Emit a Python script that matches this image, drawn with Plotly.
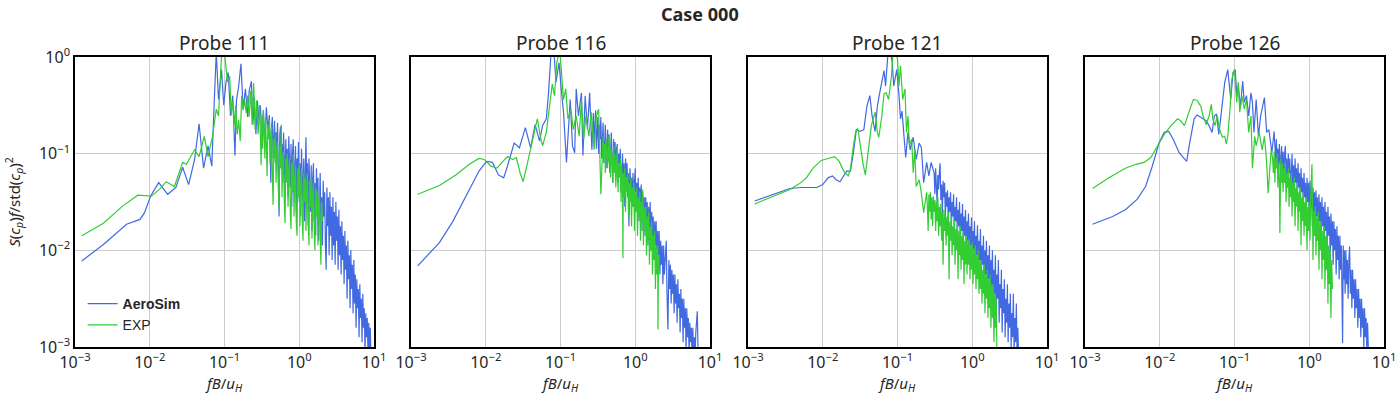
import plotly.graph_objects as go

# Each series: list of (log10(fB/u_H), log10(S(cp) f / std(cp)^2))
PROBE_TITLES = ["Probe 111", "Probe 116", "Probe 121", "Probe 126"]

P111_AEROSIM = [(-2.91,-2.11),(-2.62,-1.94),(-2.31,-1.73),(-2.13,-1.68),(-2.07,-1.61),(-1.99,-1.44),(-1.88,-1.30),(-1.76,-1.42),(-1.65,-1.35),(-1.56,-1.14),(-1.48,-1.32),(-1.40,-1.06),(-1.34,-0.69),(-1.28,-1.15),(-1.22,-0.92),(-1.17,-1.13),(-1.14,-0.52),(-1.11,0.05),(-1.08,-0.44),(-1.04,-0.13),(-1.01,-0.50),(-0.98,-0.26),(-0.95,-0.16),(-0.92,-0.61),(-0.89,-0.40),(-0.86,-1.02),(-0.84,-0.45),(-0.81,-0.30),(-0.78,-0.07),(-0.75,-0.54),(-0.72,-0.33),(-0.69,-0.62),(-0.67,-0.35),(-0.64,-0.25),(-0.62,-0.70),(-0.60,-0.42),(-0.58,-0.80),(-0.56,-0.45),(-0.54,-0.65),(-0.52,-0.50),(-0.50,-0.85),(-0.48,-0.55),(-0.46,-0.90),(-0.44,-0.52),(-0.42,-0.75),
 (-0.40,-0.60),(-0.39,-0.95),(-0.38,-1.30),(-0.37,-0.72),(-0.36,-0.62),(-0.35,-1.05),(-0.34,-0.85),(-0.33,-0.66),(-0.32,-1.10),(-0.31,-0.78),(-0.30,-0.95),(-0.29,-0.68),(-0.28,-1.20),(-0.27,-1.65),(-0.26,-0.80),(-0.25,-0.72),(-0.24,-1.15),(-0.23,-0.90),(-0.22,-1.30),(-0.21,-0.78),(-0.20,-1.05),(-0.19,-1.40),(-0.18,-0.85),(-0.17,-1.20),(-0.16,-0.95),(-0.15,-1.45),(-0.14,-0.82),(-0.13,-1.10),(-0.12,-1.35),(-0.11,-0.90),(-0.10,-1.55),(-0.09,-1.00),(-0.08,-0.85),(-0.07,-1.40),(-0.06,-1.15),(-0.05,-0.92),(-0.04,-1.60),(-0.03,-1.05),(-0.02,-1.30),(-0.01,-0.88),(0.00,-1.50),(0.01,-1.10),(0.02,-1.65),(0.03,-0.95),(0.04,-1.25),(0.05,-1.55),(0.06,-1.05),(0.07,-1.70),(0.08,-1.20),(0.09,-0.83),(0.10,-1.45),(0.11,-1.10),(0.12,-1.75),(0.13,-1.05),(0.14,-1.35),(0.15,-1.60),(0.16,-1.12),(0.17,-1.80),(0.18,-1.25),(0.19,-1.10),(0.20,-1.70),(0.21,-1.30),(0.22,-1.85),(0.23,-1.15),(0.24,-1.55),(0.25,-1.25),(0.26,-1.90),(0.27,-1.35),(0.28,-1.20),(0.29,-1.80),(0.30,-1.45),(0.31,-1.95),(0.32,-1.28),(0.33,-1.65),(0.34,-1.40),(0.35,-1.95),(0.36,-2.20),(0.37,-1.35),(0.38,-1.75),(0.39,-1.45),(0.40,-2.05),(0.41,-1.40),(0.42,-1.85),(0.43,-1.55),(0.44,-2.10),(0.45,-1.45),(0.46,-1.95),(0.47,-1.60),(0.48,-2.15),(0.49,-1.50),(0.50,-1.90),(0.51,-1.65),(0.52,-2.20),(0.53,-1.58),(0.54,-2.05),(0.55,-1.75),(0.56,-2.25),(0.57,-1.70),(0.58,-2.10),(0.59,-1.85),(0.60,-2.35),(0.61,-1.80),(0.62,-2.20),(0.63,-1.95),(0.64,-2.50),(0.65,-1.90),(0.66,-2.30),(0.67,-2.05),(0.68,-2.60),(0.69,-2.00),(0.70,-2.40),(0.71,-2.15),(0.72,-2.65),(0.73,-2.10),(0.74,-2.55),(0.75,-2.25),(0.76,-2.80),(0.77,-2.30),(0.78,-2.60),(0.79,-2.40),(0.80,-2.90),(0.81,-2.35),(0.82,-2.70),(0.83,-2.50),(0.84,-2.95),(0.85,-2.45),(0.86,-2.80),(0.87,-2.60),(0.88,-3.05),(0.89,-2.65),(0.90,-2.90),(0.91,-2.70),(0.92,-3.10),(0.93,-2.75),(0.94,-3.05),(0.95,-2.80),(0.96,-3.10)]

P111_EXP = [(-2.91,-1.85),(-2.62,-1.72),(-2.36,-1.54),(-2.16,-1.43),(-1.98,-1.44),(-1.87,-1.37),(-1.78,-1.29),(-1.67,-1.34),(-1.56,-1.09),(-1.51,-1.11),(-1.40,-0.96),(-1.34,-1.03),(-1.27,-0.82),(-1.22,-1.03),(-1.16,-0.82),(-1.11,-0.54),(-1.08,-0.61),(-1.04,0.02),(-1.00,0.05),(-0.96,-0.26),(-0.93,-0.20),(-0.91,-0.60),(-0.89,-0.45),(-0.87,-0.70),(-0.85,-0.50),(-0.83,-0.80),(-0.81,-0.65),(-0.79,-0.87),(-0.77,-0.40),(-0.75,-0.55),(-0.73,-0.45),(-0.71,-0.58),(-0.69,-0.40),(-0.67,-0.62),(-0.65,-0.35),(-0.63,-0.70),(-0.61,-0.27),(-0.59,-0.75),(-0.57,-0.45),(-0.55,-0.80),(-0.53,-0.50),
 (-0.51,-1.12),(-0.50,-0.60),(-0.49,-0.95),(-0.48,-0.55),(-0.47,-0.80),(-0.46,-1.05),(-0.45,-0.62),(-0.44,-0.90),(-0.43,-1.23),(-0.42,-0.70),(-0.41,-0.85),(-0.40,-0.65),(-0.39,-1.10),(-0.38,-0.80),(-0.37,-0.72),(-0.36,-1.20),(-0.35,-1.53),(-0.34,-0.85),(-0.33,-1.05),(-0.32,-0.80),(-0.31,-1.30),(-0.30,-0.95),(-0.29,-0.88),(-0.28,-1.35),(-0.27,-1.58),(-0.26,-0.92),(-0.25,-1.15),(-0.24,-0.70),(-0.23,-1.45),(-0.22,-1.05),(-0.21,-0.98),(-0.20,-1.50),(-0.19,-1.72),(-0.18,-1.05),(-0.17,-1.30),(-0.16,-1.00),(-0.15,-1.55),(-0.14,-1.15),(-0.13,-1.05),(-0.12,-1.60),(-0.11,-1.78),(-0.10,-1.10),(-0.09,-1.40),(-0.08,-1.00),(-0.07,-1.65),(-0.06,-1.25),(-0.05,-1.12),(-0.04,-1.70),(-0.03,-1.85),(-0.02,-1.15),(-0.01,-1.45),(0.00,-1.10),(0.01,-1.75),(0.02,-1.30),(0.03,-1.15),(0.04,-1.65),(0.05,-1.90),(0.06,-1.20),(0.07,-1.50),(0.08,-1.25),(0.09,-1.80),(0.10,-1.35),(0.11,-1.20),(0.12,-1.70),(0.13,-1.95),(0.14,-1.28),(0.15,-1.55),(0.16,-1.25),(0.17,-1.88),(0.18,-1.40),(0.19,-1.30),(0.20,-1.80),(0.21,-2.00),(0.22,-1.35),(0.23,-1.65),(0.24,-1.38),(0.25,-1.95),(0.26,-1.50),(0.27,-1.40),(0.28,-1.85),(0.29,-2.15),(0.30,-1.50),(0.31,-1.70)]

P116_AEROSIM = [(-2.91,-2.16),(-2.62,-1.92),(-2.44,-1.70),(-2.26,-1.44),(-2.09,-1.18),(-1.99,-1.08),(-1.91,-1.09),(-1.83,-1.22),(-1.76,-1.25),(-1.71,-1.13),(-1.62,-0.89),(-1.55,-0.94),(-1.47,-0.73),(-1.40,-0.94),(-1.34,-0.70),(-1.28,-0.87),(-1.24,-0.71),(-1.19,-0.64),(-1.16,-0.37),(-1.13,0.0),(-1.09,0.08),(-1.06,-0.26),(-1.02,-0.06),(-0.99,-0.33),(-0.96,-0.57),(-0.92,-1.09),(-0.90,-0.82),(-0.87,-0.44),(-0.84,-0.92),(-0.81,-0.99),(-0.79,-0.33),(-0.76,-0.61),(-0.72,-0.37),(-0.70,-1.02),(-0.67,-0.40),(-0.64,-0.75),(-0.61,-0.37),(-0.58,-0.96),
 (-0.57,-0.75),(-0.56,-0.58),(-0.55,-0.90),(-0.54,-0.68),(-0.53,-0.55),(-0.52,-0.95),(-0.51,-0.72),(-0.50,-0.62),(-0.49,-1.00),(-0.48,-0.70),(-0.47,-0.85),(-0.46,-0.62),(-0.45,-1.05),(-0.44,-0.75),(-0.43,-0.68),(-0.42,-1.10),(-0.41,-0.80),(-0.40,-0.70),(-0.39,-1.15),(-0.38,-0.85),(-0.37,-0.75),(-0.36,-1.05),(-0.35,-0.80),(-0.34,-1.20),(-0.33,-0.90),(-0.32,-0.78),(-0.31,-1.10),(-0.30,-1.30),(-0.29,-0.85),(-0.28,-1.05),(-0.27,-0.88),(-0.26,-1.25),(-0.25,-0.95),(-0.24,-0.90),(-0.23,-1.30),(-0.22,-1.00),(-0.21,-1.15),(-0.20,-0.95),(-0.19,-1.40),(-0.18,-1.05),(-0.17,-1.00),(-0.16,-1.35),(-0.15,-1.10),(-0.14,-1.55),(-0.13,-1.05),(-0.12,-1.25),(-0.11,-1.10),(-0.10,-1.45),(-0.09,-1.20),(-0.085,-1.75),(-0.07,-1.15),(-0.06,-1.40),(-0.05,-1.25),(-0.04,-1.55),(-0.03,-1.20),(-0.02,-1.45),(-0.01,-1.30),(0.00,-1.15),(0.01,-1.60),(0.02,-1.30),(0.03,-1.50),(0.04,-1.25),(0.05,-1.70),(0.06,-1.35),(0.07,-1.55),(0.08,-1.32),(0.09,-1.80),(0.10,-1.40),(0.11,-1.60),(0.12,-1.45),(0.13,-1.85),(0.14,-1.45),(0.15,-1.70),(0.16,-1.50),(0.17,-1.95),(0.18,-1.55),(0.19,-1.80),(0.20,-1.50),(0.21,-2.00),(0.22,-1.60),(0.23,-1.85),(0.24,-1.65),(0.25,-2.10),(0.26,-1.70),(0.27,-1.95),(0.28,-1.70),(0.29,-2.20),(0.30,-1.80),(0.31,-2.05),(0.32,-1.80),(0.33,-2.25),(0.34,-1.90),(0.35,-2.15),(0.36,-1.95),(0.37,-2.35),(0.38,-1.95),(0.39,-2.25),(0.40,-2.05),(0.415,-1.90),(0.425,-2.45),(0.437,-2.82),(0.45,-2.10),(0.46,-2.40),(0.47,-2.15),(0.48,-2.55),(0.49,-2.20),(0.50,-2.45),(0.51,-2.25),(0.52,-2.65),(0.53,-2.25),(0.54,-2.55),(0.55,-2.35),(0.56,-2.75),(0.57,-2.30),(0.58,-2.60),(0.59,-2.45),(0.60,-2.85),(0.61,-2.40),(0.62,-2.70),(0.63,-2.50),(0.64,-2.95),(0.65,-2.50),(0.66,-2.80),(0.67,-2.60),(0.68,-3.05),(0.69,-2.60),(0.70,-2.90),(0.71,-2.70),(0.72,-3.05),(0.73,-2.75),(0.74,-2.95),(0.75,-2.80),(0.76,-3.10),(0.77,-2.80),(0.78,-3.05),(0.79,-2.90),(0.80,-3.10),(0.81,-2.85),(0.83,-2.63),(0.84,-3.05)]

P116_EXP = [(-2.91,-1.42),(-2.62,-1.33),(-2.40,-1.22),(-2.22,-1.11),(-2.09,-1.05),(-2.02,-1.06),(-1.93,-1.13),(-1.85,-1.15),(-1.77,-1.08),(-1.71,-1.03),(-1.64,-1.06),(-1.59,-1.04),(-1.54,-1.20),(-1.50,-1.29),(-1.44,-1.09),(-1.39,-0.92),(-1.31,-0.64),(-1.27,-0.82),(-1.24,-0.92),(-1.19,-0.78),(-1.15,-0.54),(-1.11,-0.28),(-1.08,-0.40),(-1.05,-0.06),(-1.01,0.08),(-0.98,-0.19),(-0.96,-0.44),(-0.93,-0.33),(-0.90,-0.64),(-0.86,-0.54),(-0.83,-0.75),(-0.79,-0.61),(-0.75,-0.82),(-0.72,-0.44),(-0.69,-0.85),(-0.66,-0.61),(-0.62,-0.82),(-0.59,-0.57),(-0.55,-0.96),(-0.52,-0.61),(-0.49,-0.54),(-0.46,-1.42),
 (-0.43,-0.82),(-0.42,-1.05),(-0.41,-0.90),(-0.40,-1.20),(-0.39,-0.85),(-0.38,-1.00),(-0.37,-1.15),(-0.36,-0.82),(-0.35,-1.10),(-0.34,-0.92),(-0.33,-1.25),(-0.32,-0.95),(-0.31,-1.05),(-0.30,-1.30),(-0.29,-0.92),(-0.28,-1.20),(-0.27,-1.00),(-0.26,-1.35),(-0.25,-1.05),(-0.24,-0.92),(-0.23,-1.40),(-0.22,-1.10),(-0.21,-1.25),(-0.20,-1.05),(-0.19,-1.50),(-0.18,-1.15),(-0.17,-1.35),(-0.165,-2.08),(-0.16,-1.20),(-0.15,-1.45),(-0.14,-1.15),(-0.13,-1.60),(-0.12,-1.25),(-0.11,-1.40),(-0.10,-1.20),(-0.09,-1.65),(-0.08,-1.30),(-0.07,-1.50),(-0.06,-1.25),(-0.05,-1.75),(-0.04,-1.35),(-0.03,-1.55),(-0.02,-1.30),(-0.01,-1.80),(0.00,-1.40),(0.01,-1.60),(0.02,-1.35),(0.03,-1.85),(0.04,-1.45),(0.05,-1.65),(0.06,-1.40),(0.07,-1.90),(0.08,-1.50),(0.09,-1.70),(0.10,-1.37),(0.11,-1.95),(0.12,-1.55),(0.13,-1.80),(0.14,-1.55),(0.15,-2.05),(0.16,-1.65),(0.17,-1.90),(0.18,-1.60),(0.19,-2.15),(0.20,-1.75),(0.21,-2.00),(0.22,-1.70),(0.23,-2.25),(0.24,-1.85),(0.25,-2.10),(0.26,-1.80),(0.27,-2.40),(0.28,-1.95),(0.29,-2.25),(0.30,-1.95),(0.304,-2.82),(0.31,-2.15),(0.32,-2.05)]

P121_AEROSIM = [(-2.91,-1.49),(-2.67,-1.42),(-2.44,-1.36),(-2.29,-1.35),(-2.08,-1.35),(-2.00,-1.32),(-1.93,-1.25),(-1.87,-1.23),(-1.82,-1.27),(-1.77,-1.29),(-1.72,-1.23),(-1.68,-1.18),(-1.63,-1.18),(-1.59,-0.99),(-1.55,-0.75),(-1.50,-0.77),(-1.45,-0.75),(-1.41,-0.51),(-1.37,-0.40),(-1.34,-0.61),(-1.30,-0.77),(-1.27,-0.51),(-1.24,-0.38),(-1.20,-0.21),(-1.18,-0.14),(-1.16,-0.30),(-1.13,0.01),(-1.10,0.08),(-1.07,-0.06),(-1.05,-0.30),(-1.01,-0.13),(-0.98,-0.40),(-0.96,-0.64),(-0.94,-0.56),(-0.92,-0.75),(-0.89,-1.04),(-0.86,-0.78),(-0.83,-0.96),(-0.79,-0.83),(-0.75,-1.06),(-0.71,-0.89),(-0.68,-0.94),(-0.65,-1.30),(-0.61,-1.09),(-0.58,-1.23),(-0.55,-1.09),
 (-0.51,-1.20),(-0.50,-1.42),(-0.49,-1.15),(-0.48,-1.36),(-0.47,-1.52),(-0.46,-1.22),(-0.45,-1.37),(-0.44,-1.20),(-0.43,-1.10),(-0.42,-1.48),(-0.41,-1.32),(-0.40,-1.62),(-0.39,-1.28),(-0.38,-1.45),(-0.37,-1.30),(-0.36,-1.66),(-0.35,-1.40),(-0.34,-1.55),(-0.33,-1.38),(-0.32,-1.74),(-0.31,-1.45),(-0.30,-1.60),(-0.29,-1.40),(-0.28,-1.78),(-0.27,-1.50),(-0.26,-1.65),(-0.25,-1.42),(-0.24,-1.82),(-0.23,-1.55),(-0.22,-1.70),(-0.21,-1.45),(-0.20,-1.88),(-0.19,-1.58),(-0.18,-1.75),(-0.17,-1.50),(-0.16,-1.92),(-0.15,-1.62),(-0.14,-1.80),(-0.13,-1.52),(-0.12,-1.97),(-0.11,-1.65),(-0.10,-1.85),(-0.09,-1.58),(-0.08,-2.02),(-0.07,-1.70),(-0.06,-1.90),(-0.05,-1.62),(-0.04,-2.08),(-0.03,-1.75),(-0.02,-1.95),(-0.01,-1.66),(0.00,-2.15),(0.01,-1.80),(0.02,-2.00),(0.03,-1.70),(0.04,-2.20),(0.05,-1.85),(0.06,-2.05),(0.07,-1.74),(0.08,-2.25),(0.09,-1.90),(0.10,-2.10),(0.11,-1.78),(0.12,-2.30),(0.13,-1.95),(0.14,-2.15),(0.15,-1.85),(0.16,-2.40),(0.17,-2.00),(0.18,-2.25),(0.19,-1.90),(0.20,-2.45),(0.21,-2.05),(0.22,-2.30),(0.23,-1.95),(0.24,-2.55),(0.25,-2.10),(0.26,-2.40),(0.27,-2.00),(0.28,-2.60),(0.29,-2.20),(0.30,-2.45),(0.31,-2.05),(0.32,-2.70),(0.33,-2.25),(0.34,-2.50),(0.35,-2.10),(0.36,-2.75),(0.37,-2.35),(0.38,-2.60),(0.39,-2.20),(0.40,-2.85),(0.41,-2.40),(0.42,-2.65),(0.43,-2.30),(0.44,-2.90),(0.45,-2.50),(0.46,-2.75),(0.47,-2.35),(0.48,-2.95),(0.49,-2.55),(0.50,-2.80),(0.51,-2.45),(0.52,-3.00),(0.53,-2.65),(0.54,-2.90),(0.55,-2.45),(0.56,-3.05),(0.57,-2.70),(0.58,-2.95),(0.59,-2.55),(0.60,-3.10),(0.61,-2.80),(0.62,-3.10)]

P121_EXP = [(-2.91,-1.52),(-2.67,-1.44),(-2.44,-1.37),(-2.31,-1.31),(-2.22,-1.25),(-2.13,-1.15),(-2.02,-1.07),(-1.93,-1.05),(-1.84,-1.03),(-1.78,-1.08),(-1.72,-1.18),(-1.66,-1.23),(-1.63,-1.16),(-1.59,-0.92),(-1.56,-0.77),(-1.53,-0.74),(-1.49,-0.96),(-1.46,-1.11),(-1.43,-1.22),(-1.39,-0.96),(-1.35,-0.71),(-1.30,-0.57),(-1.27,-0.78),(-1.25,-0.83),(-1.21,-0.61),(-1.18,-0.38),(-1.15,-0.37),(-1.12,-0.44),(-1.08,-0.19),(-1.06,0.05),(-1.03,0.08),(-1.00,-0.02),(-0.98,-0.30),(-0.96,-0.09),(-0.93,-0.44),(-0.90,-0.33),(-0.88,-0.78),(-0.86,-0.61),(-0.84,-0.92),(-0.81,-0.85),(-0.79,-1.20),(-0.77,-0.96),(-0.75,-1.34),(-0.71,-1.27),(-0.68,-1.41),(-0.65,-1.61),
 (-0.61,-1.40),(-0.60,-1.55),(-0.59,-1.80),(-0.58,-1.42),(-0.57,-1.60),(-0.56,-1.40),(-0.55,-1.68),(-0.54,-1.45),(-0.53,-1.75),(-0.52,-1.44),(-0.51,-1.60),(-0.50,-1.48),(-0.49,-1.80),(-0.48,-1.50),(-0.47,-1.70),(-0.46,-1.45),(-0.45,-1.85),(-0.44,-1.55),(-0.43,-1.75),(-0.42,-1.52),(-0.41,-1.90),(-0.40,-1.60),(-0.39,-2.15),(-0.38,-1.58),(-0.37,-1.80),(-0.36,-1.62),(-0.35,-1.95),(-0.34,-1.65),(-0.33,-1.85),(-0.32,-1.60),(-0.31,-2.30),(-0.30,-1.70),(-0.29,-1.90),(-0.28,-1.65),(-0.27,-2.05),(-0.26,-1.75),(-0.25,-1.95),(-0.24,-1.68),(-0.23,-2.15),(-0.22,-1.78),(-0.21,-2.00),(-0.20,-1.72),(-0.19,-2.30),(-0.18,-1.80),(-0.17,-2.05),(-0.16,-1.75),(-0.15,-2.20),(-0.14,-1.85),(-0.13,-2.10),(-0.12,-1.80),(-0.11,-2.35),(-0.10,-1.90),(-0.09,-2.15),(-0.08,-1.85),(-0.07,-2.25),(-0.06,-1.90),(-0.05,-2.15),(-0.04,-1.88),(-0.03,-2.30),(-0.02,-1.95),(-0.01,-2.20),(0.00,-1.92),(0.01,-2.35),(0.02,-1.98),(0.03,-2.25),(0.04,-1.95),(0.05,-2.40),(0.06,-2.05),(0.07,-2.30),(0.08,-2.00),(0.09,-2.45),(0.10,-2.10),(0.11,-2.40),(0.12,-2.10),(0.13,-2.55),(0.14,-2.20),(0.15,-2.45),(0.16,-2.15),(0.17,-2.65),(0.18,-2.25),(0.19,-2.50),(0.20,-2.20),(0.21,-2.70),(0.22,-2.30),(0.23,-2.60),(0.24,-2.25),(0.25,-2.80),(0.26,-2.35),(0.27,-2.70),(0.28,-2.35),(0.29,-2.95),(0.30,-2.45),(0.31,-2.80),(0.32,-2.50),(0.33,-3.05)]

P126_AEROSIM = [(-2.90,-1.73),(-2.63,-1.65),(-2.46,-1.58),(-2.30,-1.47),(-2.19,-1.34),(-2.10,-1.13),(-2.01,-0.89),(-1.94,-0.78),(-1.88,-0.77),(-1.82,-0.85),(-1.74,-0.99),(-1.67,-1.06),(-1.64,-1.08),(-1.60,-0.89),(-1.54,-0.64),(-1.50,-0.60),(-1.44,-0.63),(-1.38,-0.66),(-1.34,-0.71),(-1.30,-0.78),(-1.27,-0.61),(-1.24,-0.59),(-1.21,-0.80),(-1.18,-0.57),(-1.15,-0.37),(-1.13,-0.26),(-1.09,-0.13),(-1.07,-0.33),(-1.05,-0.44),(-1.02,-0.16),(-0.99,-0.13),(-0.97,-0.40),(-0.95,-0.30),(-0.92,-0.51),(-0.89,-0.25),(-0.87,-0.47),(-0.84,-0.40),(-0.81,-0.61),(-0.78,-0.37),(-0.76,-0.47),(-0.74,-0.78),(-0.71,-0.44),(-0.68,-0.82),(-0.65,-0.61),(-0.60,-0.42),(-0.57,-0.78),(-0.54,-0.75),(-0.50,-0.99),(-0.47,-0.77),(-0.45,-1.06),
 (-0.44,-0.85),(-0.43,-1.10),(-0.42,-0.95),(-0.41,-1.20),(-0.40,-0.90),(-0.39,-1.05),(-0.38,-1.25),(-0.37,-0.92),(-0.36,-1.15),(-0.35,-0.98),(-0.34,-1.30),(-0.33,-1.00),(-0.32,-0.92),(-0.31,-1.25),(-0.30,-1.05),(-0.29,-1.35),(-0.28,-1.00),(-0.27,-1.20),(-0.26,-1.05),(-0.25,-1.40),(-0.24,-1.10),(-0.23,-1.00),(-0.22,-1.35),(-0.21,-1.12),(-0.20,-1.45),(-0.19,-1.05),(-0.18,-1.30),(-0.17,-1.15),(-0.16,-1.50),(-0.15,-1.10),(-0.14,-1.35),(-0.13,-1.20),(-0.12,-1.55),(-0.11,-1.15),(-0.10,-1.40),(-0.09,-1.25),(-0.08,-1.60),(-0.07,-1.20),(-0.06,-1.45),(-0.05,-1.30),(-0.04,-1.65),(-0.03,-1.25),(-0.02,-1.50),(-0.01,-1.30),(0.00,-1.70),(0.01,-1.28),(0.02,-1.55),(0.03,-1.35),(0.04,-1.75),(0.05,-1.35),(0.06,-1.60),(0.07,-1.40),(0.08,-1.80),(0.09,-1.38),(0.10,-1.65),(0.11,-1.45),(0.12,-1.85),(0.13,-1.42),(0.14,-1.70),(0.15,-1.50),(0.16,-1.90),(0.17,-1.45),(0.18,-1.75),(0.19,-1.55),(0.20,-1.95),(0.21,-1.50),(0.22,-1.80),(0.23,-1.60),(0.24,-2.00),(0.25,-1.55),(0.26,-1.85),(0.27,-1.65),(0.28,-2.10),(0.29,-1.62),(0.30,-1.95),(0.31,-1.70),(0.32,-2.15),(0.33,-1.70),(0.34,-2.00),(0.35,-1.78),(0.36,-2.25),(0.37,-1.75),(0.38,-2.10),(0.39,-1.85),(0.40,-2.30),(0.41,-1.85),(0.42,-2.20),(0.43,-1.95),(0.446,-2.96),(0.455,-1.95),(0.46,-2.30),(0.47,-2.00),(0.48,-2.45),(0.49,-2.00),(0.50,-2.35),(0.51,-2.10),(0.52,-2.50),(0.53,-2.10),(0.54,-1.96),(0.55,-2.45),(0.56,-2.20),(0.57,-2.60),(0.58,-2.20),(0.59,-2.50),(0.60,-2.30),(0.61,-2.70),(0.62,-2.30),(0.63,-2.60),(0.64,-2.40),(0.65,-2.80),(0.66,-2.40),(0.67,-2.70),(0.68,-2.50),(0.69,-2.90),(0.70,-2.50),(0.71,-2.80),(0.72,-2.60),(0.73,-3.00),(0.74,-2.60),(0.75,-2.90),(0.76,-2.70),(0.77,-3.05),(0.78,-2.75),(0.79,-3.00),(0.80,-3.10)]

P126_EXP = [(-2.90,-1.36),(-2.68,-1.25),(-2.46,-1.15),(-2.32,-1.11),(-2.21,-1.09),(-2.12,-1.04),(-2.03,-0.92),(-1.94,-0.80),(-1.85,-0.71),(-1.76,-0.64),(-1.72,-0.66),(-1.67,-0.71),(-1.61,-0.57),(-1.55,-0.44),(-1.50,-0.45),(-1.45,-0.51),(-1.42,-0.61),(-1.38,-0.70),(-1.34,-0.61),(-1.31,-0.49),(-1.29,-0.64),(-1.26,-0.71),(-1.23,-0.61),(-1.20,-0.75),(-1.16,-0.83),(-1.13,-0.82),(-1.11,-0.90),(-1.09,-0.82),(-1.06,-0.54),(-1.04,-0.25),(-1.02,-0.18),(-1.00,-0.13),(-0.97,-0.47),(-0.95,-0.26),(-0.93,-0.57),(-0.90,-0.40),(-0.87,-0.54),(-0.84,-0.44),(-0.81,-0.78),(-0.78,-0.61),(-0.76,-1.15),(-0.73,-0.82),(-0.71,-0.92),(-0.67,-0.78),(-0.63,-0.96),(-0.60,-0.82),(-0.57,-1.09),(-0.55,-1.41),(-0.51,-0.96),
 (-0.49,-1.05),(-0.48,-1.20),(-0.47,-0.98),(-0.46,-1.30),(-0.45,-1.05),(-0.44,-1.15),(-0.43,-1.00),(-0.42,-1.35),(-0.41,-1.10),(-0.40,-1.25),(-0.393,-1.82),(-0.38,-1.05),(-0.37,-1.30),(-0.36,-1.10),(-0.35,-1.40),(-0.34,-1.15),(-0.33,-1.30),(-0.32,-1.10),(-0.31,-1.50),(-0.30,-1.20),(-0.29,-1.35),(-0.28,-1.15),(-0.27,-1.55),(-0.26,-1.25),(-0.25,-1.45),(-0.24,-1.20),(-0.23,-1.65),(-0.22,-1.30),(-0.21,-1.50),(-0.20,-1.25),(-0.19,-1.75),(-0.18,-1.35),(-0.17,-1.55),(-0.16,-1.30),(-0.15,-1.80),(-0.14,-1.40),(-0.13,-1.60),(-0.12,-1.35),(-0.11,-1.95),(-0.10,-1.45),(-0.09,-1.70),(-0.08,-1.40),(-0.07,-1.85),(-0.06,-1.50),(-0.05,-1.75),(-0.04,-1.45),(-0.03,-2.00),(-0.02,-1.55),(-0.01,-1.80),(0.00,-1.50),(0.01,-1.90),(0.02,-1.45),(0.036,-1.11),(0.045,-1.70),(0.05,-2.10),(0.06,-1.60),(0.07,-1.85),(0.08,-1.55),(0.09,-2.05),(0.10,-1.65),(0.11,-1.90),(0.12,-1.60),(0.13,-2.20),(0.14,-1.70),(0.15,-2.00),(0.16,-1.70),(0.17,-2.30),(0.18,-1.80),(0.19,-2.10),(0.20,-1.75),(0.21,-2.40),(0.22,-1.85),(0.23,-2.20),(0.24,-1.85),(0.25,-2.55),(0.26,-1.95),(0.27,-2.35),(0.28,-2.00),(0.29,-2.70),(0.30,-2.10),(0.31,-2.40)]

X_TICKVALS = [1e-3, 1e-2, 1e-1, 1, 10]
X_TICKTEXT = ["10<sup>−3</sup>", "10<sup>−2</sup>", "10<sup>−1</sup>", "10<sup>0</sup>", "10<sup>1</sup>"]
Y_TICKVALS = [1e-3, 1e-2, 1e-1, 1]
Y_TICKTEXT = ["10<sup>−3</sup>", "10<sup>−2</sup>", "10<sup>−1</sup>", "10<sup>0</sup>"]

BLUE = "#4169E1"
GREEN = "#32CD32"
TEXT = "#262626"
FONT = "Noto Sans"

series = [(P111_AEROSIM, P111_EXP), (P116_AEROSIM, P116_EXP),
          (P121_AEROSIM, P121_EXP), (P126_AEROSIM, P126_EXP)]

x_domains = [[75/1400, 374/1400], [411/1400, 710/1400],
             [748/1400, 1047/1400], [1085/1400, 1384/1400]]
y_domain = [1 - 347/400, 1 - 57/400]

fig = go.Figure()
for i, (aero, exp) in enumerate(series):
    xa = "x" if i == 0 else f"x{i+1}"
    ya = "y" if i == 0 else f"y{i+1}"
    for name, data, color in (("<b>AeroSim</b>", aero, BLUE), ("EXP", exp, GREEN)):
        lf = [p[0] for p in data]
        ls = [p[1] for p in data]
        fig.add_trace(go.Scatter(
            x=[10 ** v for v in lf], y=[10 ** v for v in ls],
            mode="lines", line=dict(color=color, width=1.2),
            name=name, showlegend=(i == 0), xaxis=xa, yaxis=ya,
            hoverinfo="skip"))

layout = dict(
    width=1400, height=400,
    margin=dict(l=0, r=0, t=0, b=0, autoexpand=False),
    paper_bgcolor="white", plot_bgcolor="white",
    font=dict(family=FONT, color=TEXT, size=15),
    showlegend=True,
    legend=dict(x=0.059, y=0.28, xanchor="left", yanchor="top",
                bgcolor="rgba(0,0,0,0)",
                font=dict(family="Liberation Sans", size=14, color=TEXT),
                tracegroupgap=0),
)

annotations = [dict(text="<b>Case 000</b>", x=0.5, y=1 - 14/400, xref="paper", yref="paper",
                    xanchor="center", yanchor="middle", showarrow=False,
                    font=dict(family=FONT, size=18, color=TEXT))]

for i in range(4):
    xk = "xaxis" if i == 0 else f"xaxis{i+1}"
    yk = "yaxis" if i == 0 else f"yaxis{i+1}"
    ya_ref = "y" if i == 0 else f"y{i+1}"
    xa_ref = "x" if i == 0 else f"x{i+1}"
    layout[xk] = dict(
        type="log", range=[-3, 1], domain=x_domains[i], anchor=ya_ref,
        automargin=False,
        showline=True, linecolor="black", linewidth=1.5, mirror=True,
        showgrid=True, gridcolor="#cccccc", gridwidth=1, zeroline=False,
        ticks="", tickvals=X_TICKVALS, ticktext=X_TICKTEXT,
        tickfont=dict(family=FONT, size=16, color=TEXT),
        title=dict(text="<i>fB</i>/<i>u</i><sub><i>H</i></sub>",
                   font=dict(family=FONT, size=15, color=TEXT), standoff=2),
    )
    layout[yk] = dict(
        type="log", range=[-3, 0], domain=y_domain, anchor=xa_ref,
        automargin=False,
        showline=True, linecolor="black", linewidth=1.5, mirror=True,
        showgrid=True, gridcolor="#cccccc", gridwidth=1, zeroline=False,
        ticks="", tickvals=Y_TICKVALS, ticktext=Y_TICKTEXT,
        showticklabels=(i == 0),
        tickfont=dict(family=FONT, size=16, color=TEXT),
    )
    if i == 0:
        layout[yk]["title"] = dict(
            text="<i>S</i>(<i>c</i><sub><i>p</i></sub>)<i>f</i>/std(<i>c</i><sub><i>p</i></sub>)<sup>2</sup>",
            font=dict(family=FONT, size=15, color=TEXT))
    annotations.append(dict(
        text=PROBE_TITLES[i], x=sum(x_domains[i]) / 2, y=1 - 43/400,
        xref="paper", yref="paper", xanchor="center", yanchor="middle",
        showarrow=False, font=dict(family=FONT, size=19, color=TEXT)))

layout["annotations"] = annotations
fig.update_layout(**layout)
fig.write_html("out.html", config={"displayModeBar": False},
               post_script="document.body.style.margin='0px';document.body.style.overflow='hidden';")
